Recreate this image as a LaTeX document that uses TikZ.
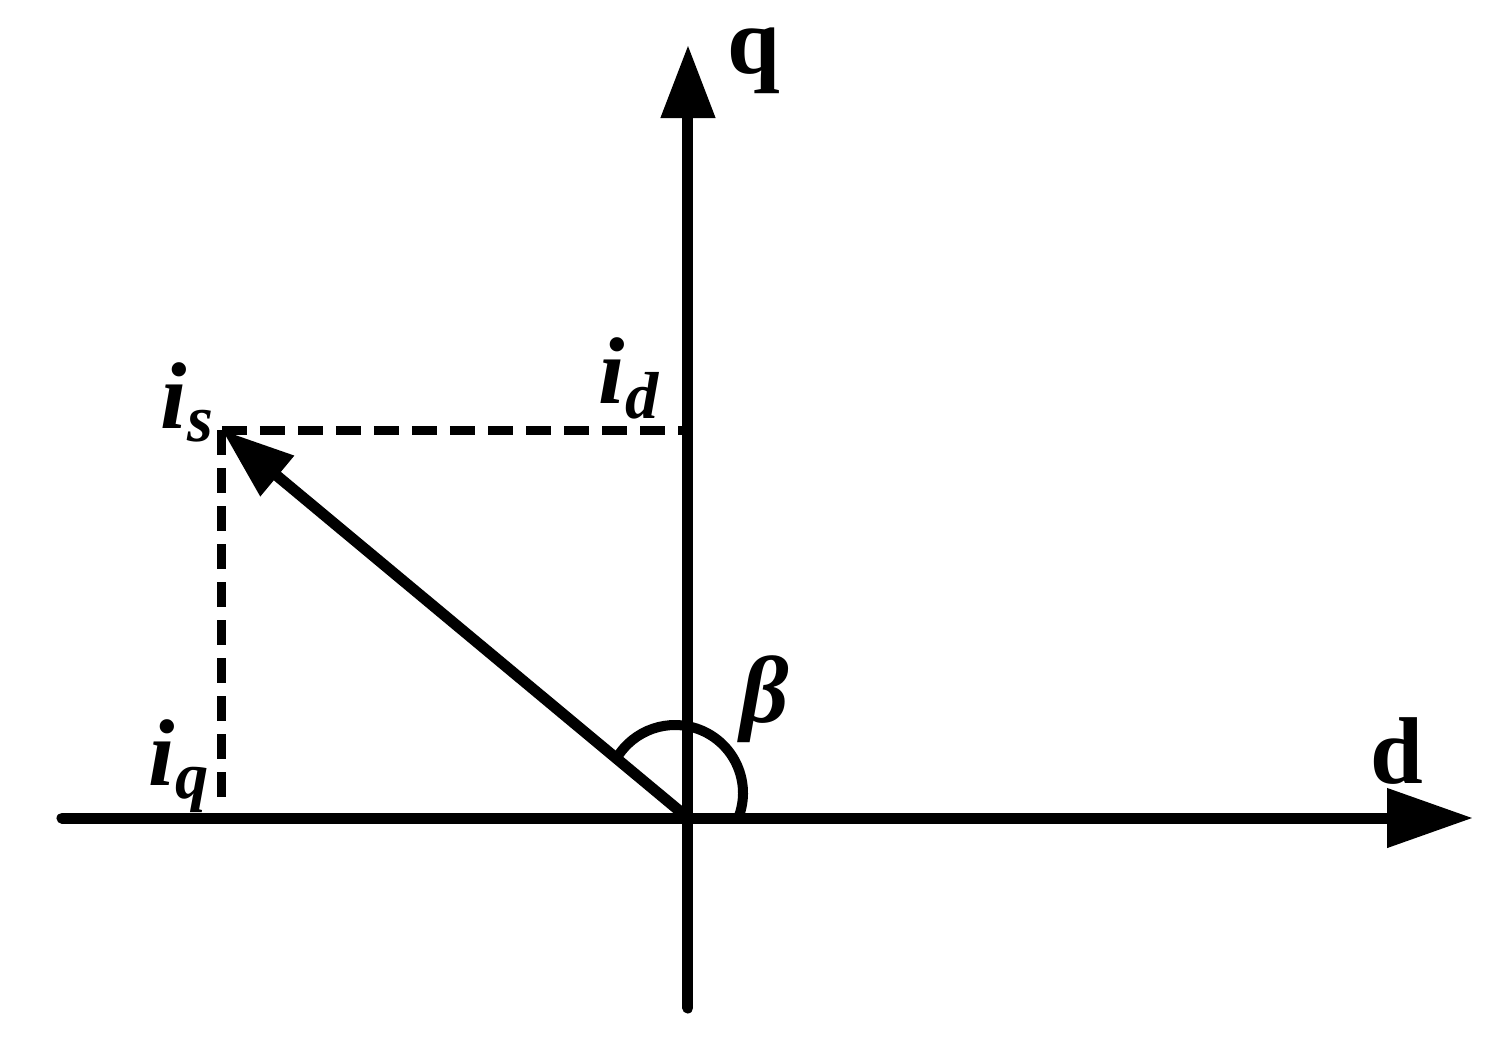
\documentclass[tikz,border=0pt]{standalone}
\usepackage{fontspec}
\setmainfont{Liberation Serif}
\usetikzlibrary{arrows.meta}
\tikzset{
  axis/.style={line width=0.11cm, line cap=round},
  proj/.style={line width=0.09cm, dash pattern=on 0.25cm off 0.13cm},
  lbl/.style={inner sep=0pt, font=\fontsize{27}{30}\selectfont\bfseries\itshape}
}
\begin{document}
\begin{tikzpicture}
\useasboundingbox (-6.88,-2.23) rectangle (8.04,8.18);
\coordinate (O) at (0,0);
\coordinate (dStart) at (-6.26,0);
\coordinate (dTip) at (7.85,0);
\coordinate (qStart) at (0,-1.90);
\coordinate (qTip) at (0,7.73);
\coordinate (IS) at (-4.66,3.88);
\coordinate (ID) at (0,3.88);
\coordinate (IQ) at (-4.66,0.16);
\draw [axis, -{Triangle[length=0.86cm, width=0.57cm]}] (dStart)--(dTip);
\draw [axis, -{Triangle[length=0.73cm, width=0.52cm]}] (qStart)--(qTip);
\draw [proj] (IS)--(ID);
\draw [proj] (IS)--(IQ);
\draw [axis, -{Triangle[length=0.72cm, width=0.5cm]}] (O)--(IS);
\draw [line width=0.1cm] ([shift={(-21:0.68)}]-0.13,0.25) arc[start angle=-21, end angle=149, radius=0.68];
\node[lbl, anchor=base west] (qlabel) at (0.39,7.45) {\upshape q};
\node[lbl, anchor=base west] (dlabel) at (6.82,0.35) {\upshape d};
\node[lbl, anchor=base west] (islabel) at (-5.28,3.90) {i\textsubscript{s}};
\node[lbl, anchor=base west] (idlabel) at (-0.90,4.15) {i\textsubscript{d}};
\node[lbl, anchor=base west] (iqlabel) at (-5.40,0.33) {i\textsubscript{q}};
\node[lbl] (beta) at (0.77,1.19) {β};
\end{tikzpicture}
\end{document}
